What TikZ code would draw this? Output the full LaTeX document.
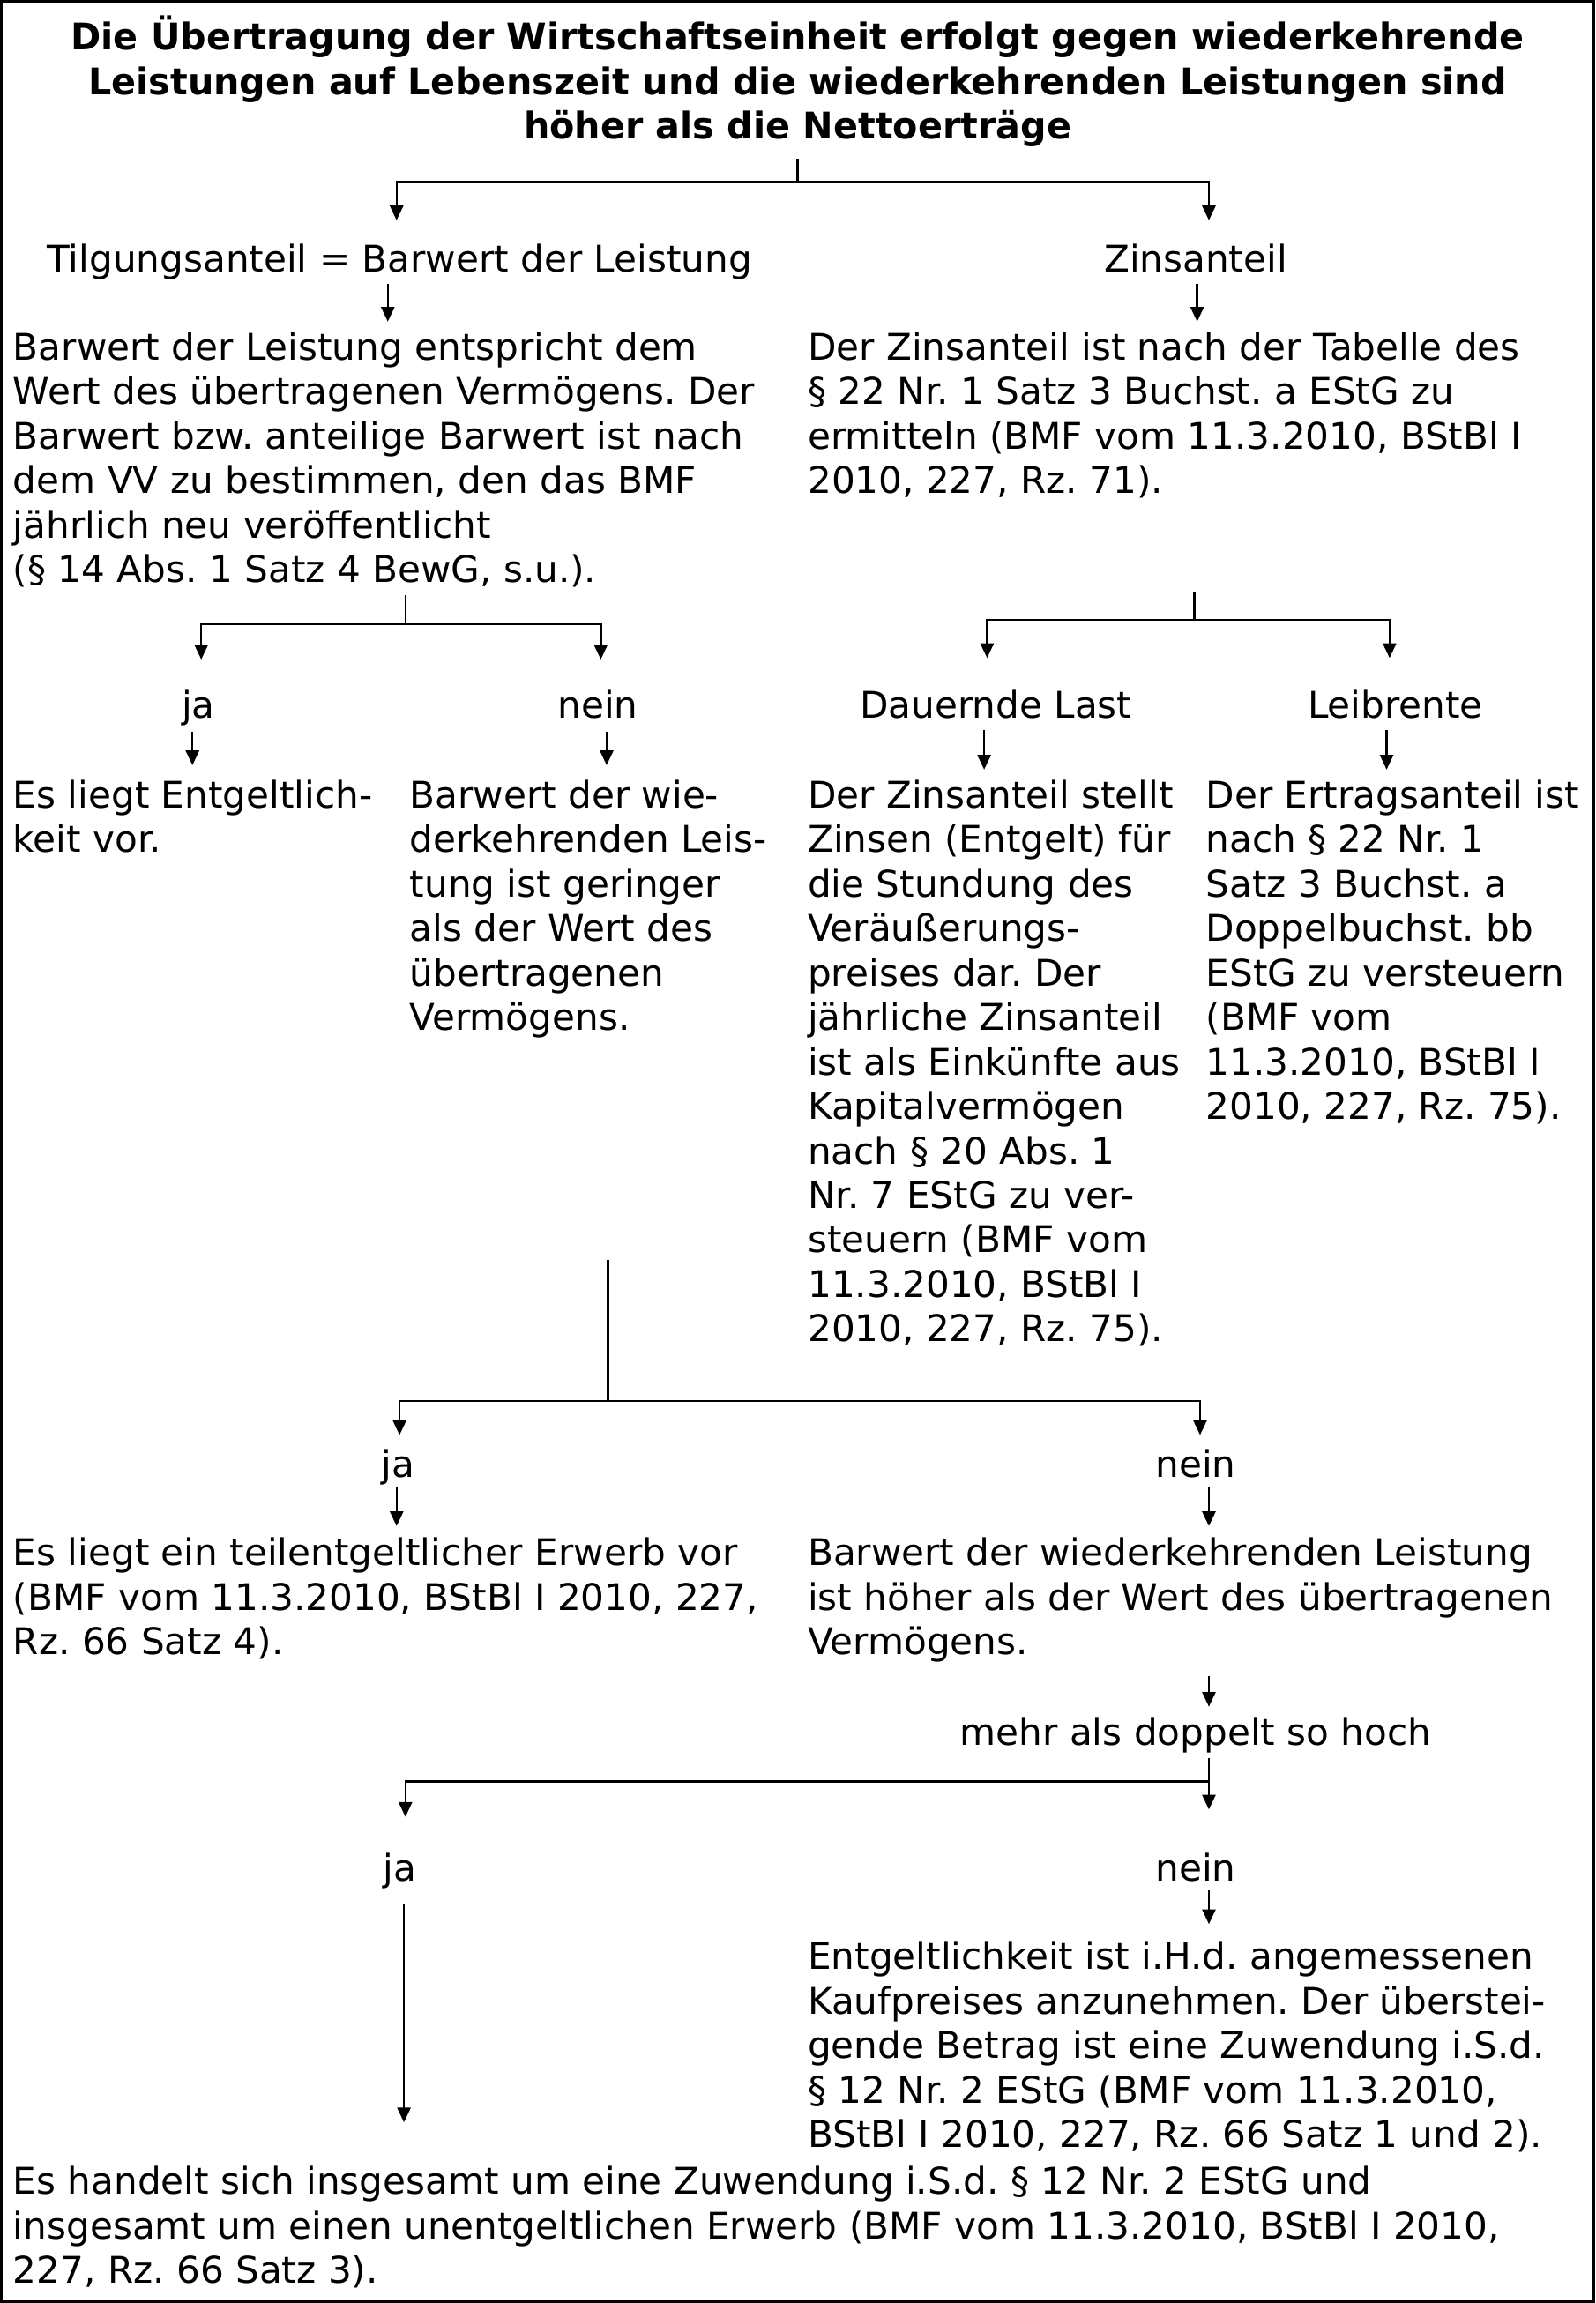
\documentclass[tikz,border=0pt]{standalone}
\usepackage{fontspec}
\setmainfont{DejaVu Sans}[FakeStretch=1.012]
\newfontfamily\titlefont{DejaVu Sans}[FakeStretch=0.991]
\usetikzlibrary{arrows.meta}
\newcommand\firststrut{\rule{0pt}{24pt}}
\begin{document}
\begin{tikzpicture}[x=1pt,y=-1pt,
  txt/.style={inner sep=0pt, outer sep=0pt, font=\fontsize{25}{30.3}\selectfont\frenchspacing},
  blk/.style={txt, anchor=north west, align=left},
  ttl/.style={inner sep=0pt, outer sep=0pt, anchor=north, align=center, font=\titlefont\fontsize{25}{30.3}\selectfont\bfseries\frenchspacing},
  lbl/.style={txt, anchor=base},
  ln/.style={line width=1.5pt},
  arr/.style={line width=1.5pt, -{Triangle[length=10pt,width=9pt]}},
  frame/.style={line width=2pt}
]
\useasboundingbox (0,0) rectangle (1086,1568);
\draw[frame] (1,1) rectangle (1085,1567);

% Title
\node[ttl] (title) at (543,10) {\firststrut Die Übertragung der Wirtschaftseinheit erfolgt gegen wiederkehrende\\Leistungen auf Lebenszeit und die wiederkehrenden Leistungen sind\\höher als die Nettoerträge};

% Level 1 labels
\node[lbl] (tilg) at (272,185) {Tilgungsanteil = Barwert der Leistung};
\node[lbl] (zins) at (814,185) {Zinsanteil};

% Level 1 blocks
\node[blk] (barwert) at (9,221) {\firststrut Barwert der Leistung entspricht dem\\Wert des übertragenen Vermögens. Der\\Barwert bzw. anteilige Barwert ist nach\\dem VV zu bestimmen, den das BMF\\jährlich neu veröffentlicht\\(§ 14 Abs. 1 Satz 4 BewG, s.u.).};
\node[blk] (zinstab) at (550,221) {\firststrut Der Zinsanteil ist nach der Tabelle des\\§ 22 Nr. 1 Satz 3 Buchst. a EStG zu\\ermitteln (BMF vom 11.3.2010, BStBl I\\2010, 227, Rz. 71).};

% Level 2 labels
\node[lbl] (ja1) at (135,489) {ja};
\node[lbl] (nein1) at (407,489) {nein};
\node[lbl] (dlast) at (678,489) {Dauernde Last};
\node[lbl] (leib) at (950,489) {Leibrente};

% Level 2 blocks
\node[blk] (entg) at (9,526) {\firststrut Es liegt Entgeltlich-\\keit vor.};
\node[blk] (gering) at (279,526) {\firststrut Barwert der wie-\\derkehrenden Leis-\\tung ist geringer\\als der Wert des\\übertragenen\\Vermögens.};
\node[blk] (dlasttxt) at (550,526) {\firststrut Der Zinsanteil stellt\\Zinsen (Entgelt) für\\die Stundung des\\Veräußerungs-\\preises dar. Der\\jährliche Zinsanteil\\ist als Einkünfte aus\\Kapitalvermögen\\nach § 20 Abs. 1\\Nr. 7 EStG zu ver-\\steuern (BMF vom\\11.3.2010, BStBl I\\2010, 227, Rz. 75).};
\node[blk] (leibtxt) at (821,526) {\firststrut Der Ertragsanteil ist\\nach § 22 Nr. 1\\Satz 3 Buchst. a\\Doppelbuchst. bb\\EStG zu versteuern\\(BMF vom\\11.3.2010, BStBl I\\2010, 227, Rz. 75).};

% Level 3
\node[lbl] (ja2) at (271,1006) {ja};
\node[lbl] (nein2) at (814,1006) {nein};
\node[blk] (teil) at (9,1042) {\firststrut Es liegt ein teilentgeltlicher Erwerb vor\\(BMF vom 11.3.2010, BStBl I 2010, 227,\\Rz. 66 Satz 4).};
\node[blk] (hoeher) at (550,1042) {\firststrut Barwert der wiederkehrenden Leistung\\ist höher als der Wert des übertragenen\\Vermögens.};

\node[lbl] (mehr) at (814,1188) {mehr als doppelt so hoch};

% Level 4
\node[lbl] (ja3) at (272,1281) {ja};
\node[lbl] (nein3) at (814,1281) {nein};
\node[blk] (angem) at (550,1317) {\firststrut Entgeltlichkeit ist i.H.d. angemessenen\\Kaufpreises anzunehmen. Der überstei-\\gende Betrag ist eine Zuwendung i.S.d.\\§ 12 Nr. 2 EStG (BMF vom 11.3.2010,\\BStBl I 2010, 227, Rz. 66 Satz 1 und 2).};
\node[blk] (unentg) at (9,1470) {\firststrut Es handelt sich insgesamt um eine Zuwendung i.S.d. § 12 Nr. 2 EStG und\\insgesamt um einen unentgeltlichen Erwerb (BMF vom 11.3.2010, BStBl I 2010,\\227, Rz. 66 Satz 3).};

% Connector points
\coordinate (t0) at (543,108);
\coordinate (t1) at (543,124);
\coordinate (tilgIn) at (270,150);
\coordinate (zinsIn) at (823,150);
\coordinate (tilgOut) at (264,193);
\coordinate (barwertIn) at (264,219);
\coordinate (zinsOut) at (815,193);
\coordinate (zinstabIn) at (815,219);

\coordinate (a0) at (276,405);
\coordinate (a1) at (276,425);
\coordinate (ja1In) at (137,449);
\coordinate (nein1In) at (409,449);
\coordinate (ja1Out) at (131,498);
\coordinate (entgIn) at (131,521);
\coordinate (nein1Out) at (413,498);
\coordinate (geringIn) at (413,521);

\coordinate (b0) at (813,403);
\coordinate (b1) at (813,422);
\coordinate (dlastIn) at (672,448);
\coordinate (leibIn) at (946,448);
\coordinate (dlastOut) at (670,497);
\coordinate (dlasttxtIn) at (670,524);
\coordinate (leibOut) at (944,497);
\coordinate (leibtxtIn) at (944,524);

\coordinate (m0) at (414,858);
\coordinate (m1) at (414,954);
\coordinate (ja2In) at (272,977);
\coordinate (nein2In) at (817,977);
\coordinate (ja2Out) at (270,1013);
\coordinate (teilIn) at (270,1039);
\coordinate (nein2Out) at (823,1013);
\coordinate (hoeherIn) at (823,1039);

\coordinate (hoeherOut) at (823,1141);
\coordinate (mehrIn) at (823,1162);
\coordinate (mehrOut) at (823,1197);
\coordinate (m2) at (823,1213);
\coordinate (nein3In) at (823,1232);
\coordinate (ja3In) at (276,1237);
\coordinate (nein3Out) at (823,1287);
\coordinate (angemIn) at (823,1310);
\coordinate (ja3Out) at (275,1296);
\coordinate (unentgIn) at (275,1445);

% Connectors
\draw[ln] (t0) -- (t1);
\draw[arr] (t1) -| (tilgIn);
\draw[arr] (t1) -| (zinsIn);
\draw[arr] (tilgOut) -- (barwertIn);
\draw[arr] (zinsOut) -- (zinstabIn);

\draw[ln] (a0) -- (a1);
\draw[arr] (a1) -| (ja1In);
\draw[arr] (a1) -| (nein1In);
\draw[arr] (ja1Out) -- (entgIn);
\draw[arr] (nein1Out) -- (geringIn);

\draw[ln] (b0) -- (b1);
\draw[arr] (b1) -| (dlastIn);
\draw[arr] (b1) -| (leibIn);
\draw[arr] (dlastOut) -- (dlasttxtIn);
\draw[arr] (leibOut) -- (leibtxtIn);

\draw[ln] (m0) -- (m1);
\draw[arr] (m1) -| (ja2In);
\draw[arr] (m1) -| (nein2In);
\draw[arr] (ja2Out) -- (teilIn);
\draw[arr] (nein2Out) -- (hoeherIn);

\draw[arr] (hoeherOut) -- (mehrIn);
\draw[ln] (mehrOut) -- (m2);
\draw[arr] (m2) -- (nein3In);
\draw[arr] (m2) -| (ja3In);
\draw[arr] (nein3Out) -- (angemIn);
\draw[arr] (ja3Out) -- (unentgIn);
\end{tikzpicture}
\end{document}
